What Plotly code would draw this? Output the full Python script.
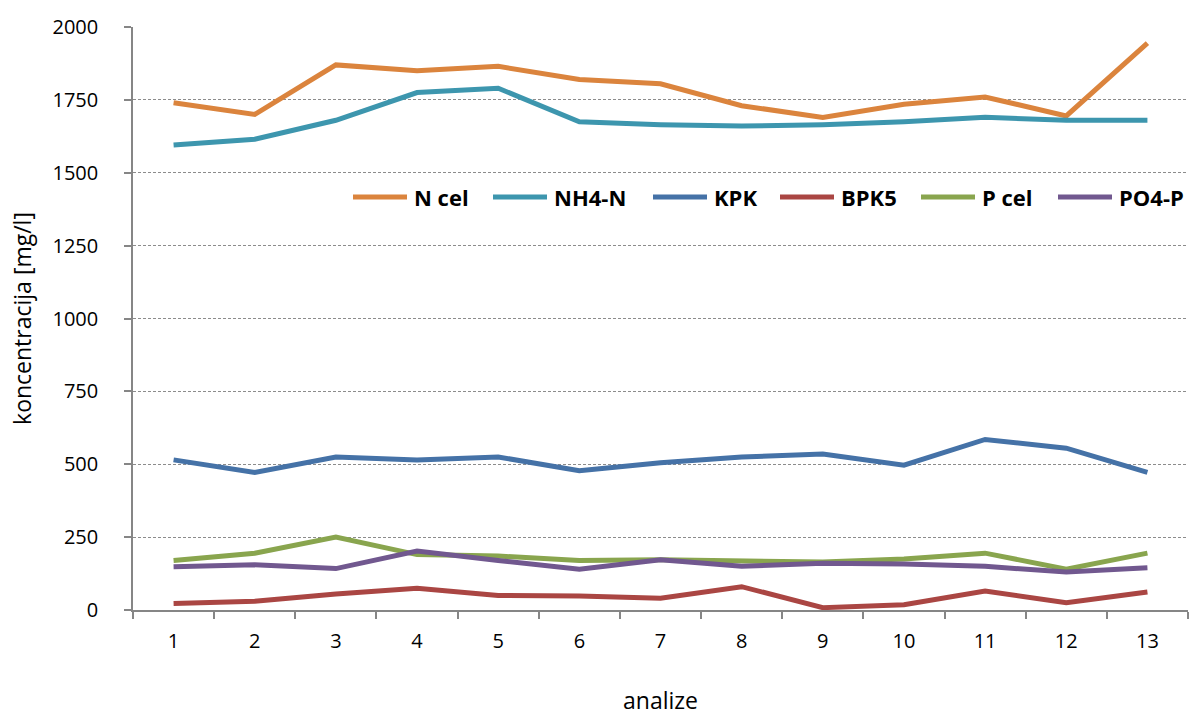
import plotly.graph_objects as go

# Measurement runs on the x axis
analize = [str(i) for i in range(1, 14)]

# Concentrations in mg/l for each run
n_cel = [1740, 1700, 1870, 1850, 1865, 1820, 1805, 1730, 1690, 1735, 1760, 1695, 1945]
nh4_n = [1595, 1615, 1680, 1775, 1790, 1675, 1665, 1660, 1665, 1675, 1690, 1680, 1680]
kpk = [515, 472, 525, 515, 525, 478, 505, 525, 535, 497, 585, 555, 472]
bpk5 = [22, 30, 55, 75, 50, 48, 40, 80, 8, 18, 65, 25, 62]
p_cel = [170, 195, 250, 190, 185, 170, 172, 170, 165, 175, 195, 140, 195]
po4_p = [148, 155, 142, 202, 170, 140, 172, 150, 160, 158, 150, 130, 145]

y_ticks = [0, 250, 500, 750, 1000, 1250, 1500, 1750, 2000]

series = [
    ("N cel", n_cel, "#DB843D"),
    ("NH4-N", nh4_n, "#3D96AE"),
    ("KPK", kpk, "#4572A7"),
    ("BPK5", bpk5, "#AA4643"),
    ("P cel", p_cel, "#89A54E"),
    ("PO4-P", po4_p, "#71588F"),
]

W, H = 1190, 716
M = dict(l=133, r=2, t=27, b=106)
plot_w = W - M["l"] - M["r"]
plot_h = H - M["t"] - M["b"]

FONT = "'Open Sans', 'Noto Sans', sans-serif"
LINE_W = 5

fig = go.Figure()
for name, vals, color in series:
    fig.add_trace(go.Scatter(
        x=analize, y=vals, name=name, mode="lines",
        line=dict(color=color, width=LINE_W),
        showlegend=False,
    ))

# Horizontal legend inside the plot: sample line + bold label per series
legend_y_px = 197            # vertical centre of the legend row (page px)
legend_left_px = [353, 493, 653, 780, 921, 1058]  # start of each sample line
sample_len_px = 54
label_gap_px = 5


def px_to_paper_x(px):
    return (px - M["l"]) / plot_w


def px_to_paper_y(py):
    return (H - M["b"] - py) / plot_h


ly = px_to_paper_y(legend_y_px)
for (name, _, color), left in zip(series, legend_left_px):
    fig.add_shape(
        type="line", xref="paper", yref="paper",
        x0=px_to_paper_x(left), x1=px_to_paper_x(left + sample_len_px),
        y0=ly, y1=ly, line=dict(color=color, width=LINE_W),
    )
    fig.add_annotation(
        xref="paper", yref="paper",
        x=px_to_paper_x(left + sample_len_px + label_gap_px), y=ly,
        xanchor="left", yanchor="middle", showarrow=False,
        text=f"<b>{name}</b>",
        font=dict(family=FONT, size=22, color="#000000"),
    )

fig.update_layout(
    width=W, height=H,
    margin=M,
    paper_bgcolor="white", plot_bgcolor="white",
    font=dict(family=FONT, size=20, color="#000000"),
    showlegend=False,
    xaxis=dict(
        type="category", tickson="boundaries",
        range=[-0.5, 12.5],
        showline=True, linecolor="#868686", linewidth=1.5,
        ticks="outside", ticklen=7, tickcolor="#868686", tickwidth=1.5,
        showgrid=False, zeroline=False,
        ticklabelstandoff=12,
        tickfont=dict(family=FONT, size=20),
        title=dict(text="analize", standoff=42, font=dict(family=FONT, size=23)),
    ),
    yaxis=dict(
        range=[0, 2000], tickvals=y_ticks,
        showline=True, linecolor="#868686", linewidth=1.5,
        ticks="outside", ticklen=7, tickcolor="#868686", tickwidth=1.5,
        showgrid=True, gridcolor="#8c8c8c", griddash="3px,2px", gridwidth=1,
        zeroline=False,
        ticklabelstandoff=22,
        tickfont=dict(family=FONT, size=20),
        title=dict(text="koncentracija [mg/l]", standoff=14, font=dict(family=FONT, size=23)),
    ),
)

fig.write_html("out.html")
